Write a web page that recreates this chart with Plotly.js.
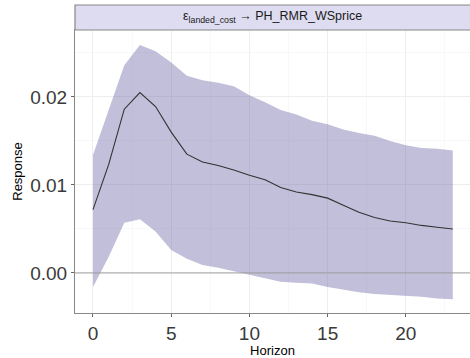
<!DOCTYPE html>
<html><head><meta charset="utf-8">
<script src="https://cdn.plot.ly/plotly-3.0.1.min.js"></script>
<style>html,body{margin:0;padding:0;background:#fff}</style>
</head><body><div id="chart" style="width:470px;height:358px"></div>
<script>
const horizon = [0,1,2,3,4,5,6,7,8,9,10,11,12,13,14,15,16,17,18,19,20,21,22,23];
const response = [0.0072,0.0123,0.0186,0.0205,0.0189,0.0160,0.0135,0.0126,0.0122,0.0117,0.0111,0.0106,0.0097,0.0092,0.0089,0.0085,0.0077,0.0069,0.0063,0.0059,0.0057,0.0054,0.0052,0.0050];
const upper = [0.0134,0.0184,0.0236,0.0259,0.0252,0.0239,0.0224,0.0219,0.0216,0.0212,0.0202,0.0194,0.0185,0.0180,0.0173,0.0169,0.0163,0.0159,0.0156,0.0150,0.0145,0.0142,0.0141,0.0139];
const lower = [-0.0016,0.0018,0.0057,0.0061,0.0047,0.0026,0.0016,0.0009,0.0006,0.0002,-0.0002,-0.0006,-0.0010,-0.0011,-0.0012,-0.0016,-0.0019,-0.0022,-0.0024,-0.0025,-0.0026,-0.0027,-0.0029,-0.0030];
const stripLabel = "ε<sub>landed_cost</sub> → PH_RMR_WSprice";

const traces = [
  {x: horizon, y: lower, type:'scatter', mode:'lines', line:{width:0, color:'rgba(0,0,0,0)'}, hoverinfo:'skip', showlegend:false},
  {x: horizon, y: upper, type:'scatter', mode:'lines', fill:'tonexty', fillcolor:'rgba(100,95,160,0.4)', line:{width:0, color:'rgba(0,0,0,0)'}, showlegend:false},
  {x: horizon, y: response, type:'scatter', mode:'lines', line:{color:'#333333', width:1.1}, showlegend:false}
];

const layout = {
  width:470, height:358,
  margin:{l:75, r:0, t:30, b:45},
  paper_bgcolor:'#ffffff', plot_bgcolor:'#ffffff',
  font:{family:'Liberation Sans, Arial, sans-serif', color:'#000'},
  xaxis:{range:[-1.15,24.1], tickvals:[0,5,10,15,20], ticktext:['0','5','10','15','20'],
    showgrid:true, gridcolor:'#EEEEEE', gridwidth:1,
    minor:{tickvals:[2.5,7.5,12.5,17.5,22.5], showgrid:true, gridcolor:'#F4F4F4', gridwidth:0.6},
    zeroline:false, showline:true, linecolor:'#888', linewidth:1, mirror:true,
    ticks:'outside', ticklen:3, tickcolor:'#666',
    tickfont:{size:19, color:'#3a3a3a'},
    title:{text:'Horizon', font:{size:13, color:'#000'}, standoff:0}},
  yaxis:{range:[-0.00455,0.0276], tickvals:[0,0.01,0.02], ticktext:['0.00','0.01','0.02'],
    showgrid:true, gridcolor:'#EEEEEE', gridwidth:1,
    minor:{tickvals:[0.005,0.015,0.025], showgrid:true, gridcolor:'#F4F4F4', gridwidth:0.6},
    zeroline:false, showline:true, linecolor:'#888', linewidth:1, mirror:true,
    ticks:'outside', ticklen:3, tickcolor:'#666',
    tickfont:{size:19, color:'#3a3a3a'},
    title:{text:'Response', font:{size:13, color:'#000'}, standoff:4}},
  shapes:[
    {type:'line', xref:'paper', x0:0, x1:1, yref:'y', y0:0, y1:0, line:{color:'#A0A0A0', width:1}},
    {type:'rect', xref:'paper', yref:'paper', x0:0, x1:1.01, y0:1, y1:1+25/283, fillcolor:'#DEDCF0', line:{color:'#888', width:1.2}}
  ],
  annotations:[
    {xref:'paper', yref:'paper', x:0.5, y:1+12.5/283, xanchor:'center', yanchor:'middle', showarrow:false,
     text: stripLabel, font:{size:12.5, color:'#1a1a1a'}}
  ]
};
Plotly.newPlot('chart', traces, layout, {displayModeBar:false, staticPlot:true});
</script></body></html>
